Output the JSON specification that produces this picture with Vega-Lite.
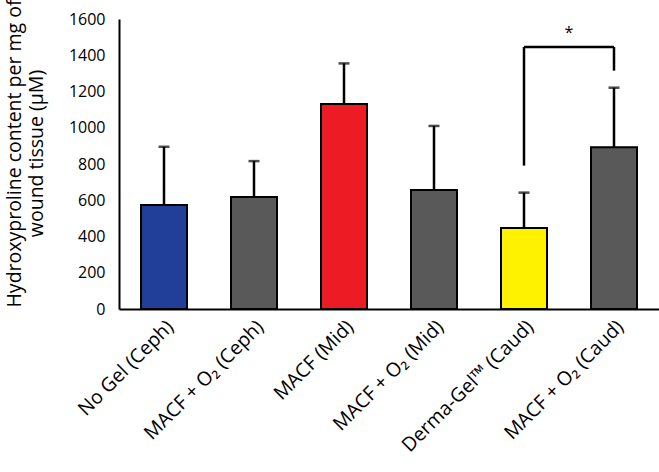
{
  "$schema": "https://vega.github.io/schema/vega-lite/v6.json",
  "width": 540,
  "height": 290,
  "autosize": {"type": "none"},
  "padding": {"left": 119, "top": 19, "right": 0, "bottom": 163},
  "background": "white",
  "config": {
    "view": {"stroke": null},
    "font": "Open Sans",
    "axisY": {"grid": false, "ticks": false, "domainColor": "black", "domainWidth": 2, "labelFontSize": 16, "labelColor": "black", "labelPadding": 14, "labelOverlap": false, "format": "d", "titleFontSize": 19.5, "titleFontWeight": "normal", "titleColor": "black", "titlePadding": 22, "titleY": 134},
    "axisX": {"labelAngle": -45, "labelFontSize": 19.5, "labelColor": "black", "labelOverlap": false, "labelLimit": 300, "ticks": false, "domainColor": "black", "domainWidth": 2, "labelPadding": 8}
  },
  "datasets": {
    "bars": [
      {"label": "No Gel (Ceph)", "mean": 574, "upper": 895},
      {"label": "MACF + O₂ (Ceph)", "mean": 618, "upper": 816},
      {"label": "MACF (Mid)", "mean": 1131, "upper": 1355},
      {"label": "MACF + O₂ (Mid)", "mean": 657, "upper": 1010},
      {"label": "Derma-Gel™  (Caud)", "mean": 447, "upper": 642},
      {"label": "MACF + O₂ (Caud)", "mean": 892, "upper": 1221}
    ],
    "legs": [
      {"label": "Derma-Gel™  (Caud)", "lo": 791, "hi": 1446},
      {"label": "MACF + O₂ (Caud)", "lo": 1315, "hi": 1446}
    ],
    "top": [
      {"from": "Derma-Gel™  (Caud)", "to": "MACF + O₂ (Caud)", "y": 1446, "star": "*", "ys": 1525}
    ]
  },
  "layer": [
    {
      "data": {"name": "bars"},
      "mark": {"type": "bar", "stroke": "black", "strokeWidth": 2, "width": 46},
      "encoding": {
        "x": {
          "field": "label", "type": "nominal",
          "scale": {"domain": ["No Gel (Ceph)", "MACF + O₂ (Ceph)", "MACF (Mid)", "MACF + O₂ (Mid)", "Derma-Gel™  (Caud)", "MACF + O₂ (Caud)"], "paddingInner": 0.49, "paddingOuter": 0.245},
          "axis": {"title": null}
        },
        "y": {
          "field": "mean", "type": "quantitative",
          "scale": {"domain": [0, 1600], "nice": false},
          "axis": {"values": [0, 200, 400, 600, 800, 1000, 1200, 1400, 1600], "title": ["Hydroxyproline content per mg of", "wound tissue (μM)"]}
        },
        "color": {
          "field": "label", "type": "nominal",
          "scale": {"domain": ["No Gel (Ceph)", "MACF + O₂ (Ceph)", "MACF (Mid)", "MACF + O₂ (Mid)", "Derma-Gel™  (Caud)", "MACF + O₂ (Caud)"], "range": ["#213f99", "#595959", "#ed1c24", "#595959", "#fff200", "#595959"]},
          "legend": null
        }
      }
    },
    {
      "data": {"name": "bars"},
      "mark": {"type": "rule", "strokeWidth": 2.5, "color": "black"},
      "encoding": {
        "x": {"field": "label", "type": "nominal", "axis": {"title": null}},
        "y": {"field": "mean", "type": "quantitative", "axis": {"values": [0, 200, 400, 600, 800, 1000, 1200, 1400, 1600], "title": ["Hydroxyproline content per mg of", "wound tissue (μM)"]}},
        "y2": {"field": "upper"}
      }
    },
    {
      "data": {"name": "bars"},
      "mark": {"type": "tick", "thickness": 2.5, "size": 11, "color": "black", "orient": "horizontal"},
      "encoding": {
        "x": {"field": "label", "type": "nominal", "axis": {"title": null}},
        "y": {"field": "upper", "type": "quantitative", "axis": {"values": [0, 200, 400, 600, 800, 1000, 1200, 1400, 1600], "title": ["Hydroxyproline content per mg of", "wound tissue (μM)"]}}
      }
    },
    {
      "data": {"name": "legs"},
      "mark": {"type": "rule", "strokeWidth": 2.5, "color": "black"},
      "encoding": {
        "x": {"field": "label", "type": "nominal", "axis": {"title": null}},
        "y": {"field": "lo", "type": "quantitative", "axis": {"values": [0, 200, 400, 600, 800, 1000, 1200, 1400, 1600], "title": ["Hydroxyproline content per mg of", "wound tissue (μM)"]}},
        "y2": {"field": "hi"}
      }
    },
    {
      "data": {"name": "top"},
      "mark": {"type": "rule", "strokeWidth": 2.5, "color": "black"},
      "encoding": {
        "x": {"field": "from", "type": "nominal", "axis": {"title": null}},
        "x2": {"field": "to"},
        "y": {"field": "y", "type": "quantitative", "axis": {"values": [0, 200, 400, 600, 800, 1000, 1200, 1400, 1600], "title": ["Hydroxyproline content per mg of", "wound tissue (μM)"]}}
      }
    },
    {
      "data": {"name": "top"},
      "mark": {"type": "text", "fontSize": 16, "color": "black", "dx": 45, "baseline": "middle"},
      "encoding": {
        "x": {"field": "from", "type": "nominal", "axis": {"title": null}},
        "y": {"field": "ys", "type": "quantitative", "axis": {"values": [0, 200, 400, 600, 800, 1000, 1200, 1400, 1600], "title": ["Hydroxyproline content per mg of", "wound tissue (μM)"]}},
        "text": {"field": "star"}
      }
    }
  ]
}
